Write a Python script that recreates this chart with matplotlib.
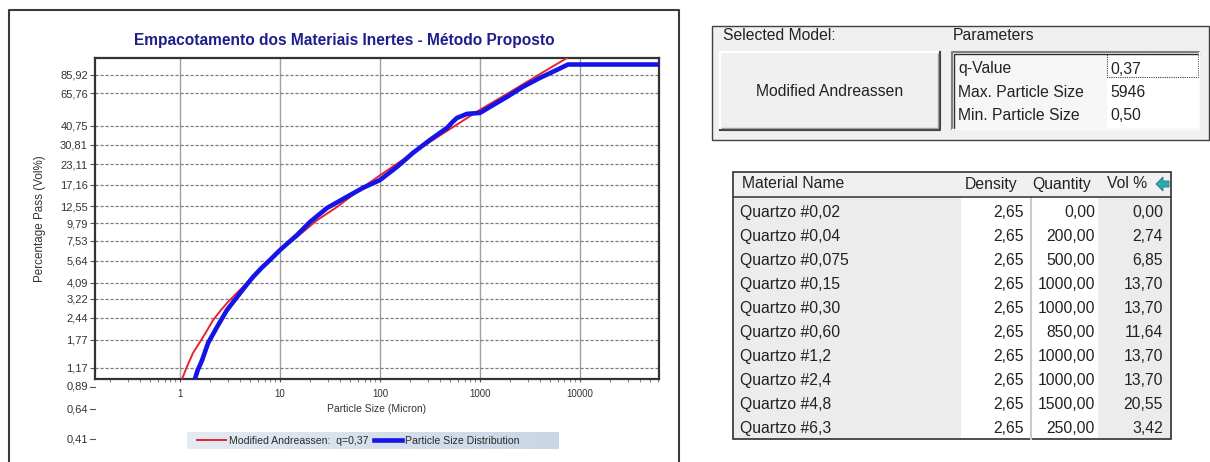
import matplotlib.pyplot as plt
import matplotlib.transforms as mtransforms
from matplotlib.patches import Rectangle, Polygon
from matplotlib.ticker import FixedLocator, NullFormatter, NullLocator
import numpy as np

plt.rcParams['font.family'] = ['Liberation Sans', 'DejaVu Sans']

# Curva do modelo de Andreassen modificado (tamanho em micron, % passante)
andreassen_size = [1.05, 1.17, 1.35, 1.70, 2.14, 2.55, 3.02, 3.60, 4.27, 5.20,
                   6.31, 7.70, 9.33, 14.8, 23.4, 37.2, 68, 100, 214, 468,
                   1000, 1862, 3981, 7413]
andreassen_pass = [1.0, 1.19, 1.46, 1.84, 2.36, 2.72, 3.08, 3.45, 3.84, 4.38,
                   4.92, 5.62, 6.41, 7.98, 10.2, 12.4, 16.6, 19.7, 27.4, 37.8,
                   51.5, 65.0, 87.0, 110]

# Distribuição granulométrica da mistura
psd_size = [1.41, 1.50, 1.66, 1.91, 2.34, 2.95, 3.72, 4.50, 5.37, 6.50, 7.94,
            10, 14.8, 19.95, 29.5, 46.8, 67.6, 100, 148, 214, 316, 468, 530,
            589, 741, 1000, 1259, 1862, 2692, 3981, 5888, 7586, 70000]
psd_pass = [1.0, 1.13, 1.31, 1.69, 2.13, 2.74, 3.31, 3.87, 4.44, 5.05, 5.70,
            6.59, 8.22, 9.95, 12.2, 14.4, 16.4, 18.4, 22.3, 27.4, 33.1, 39.5,
            43.0, 45.7, 48.5, 49.2, 53.7, 62.2, 72.1, 82.2, 92.5, 100, 100]

y_ticks = [85.92, 65.76, 40.75, 30.81, 23.11, 17.16, 12.55, 9.79, 7.53, 5.64,
           4.09, 3.22, 2.44, 1.77, 1.17, 0.89, 0.64, 0.41]
x_ticks = [1, 10, 100, 1000, 10000]

# Parâmetros do modelo
modelo = 'Modified Andreassen'
q_value = 0.37
max_size = 5946
min_size = 0.50

# Tabela de materiais
materiais = ['Quartzo #0,02', 'Quartzo #0,04', 'Quartzo #0,075', 'Quartzo #0,15',
             'Quartzo #0,30', 'Quartzo #0,60', 'Quartzo #1,2', 'Quartzo #2,4',
             'Quartzo #4,8', 'Quartzo #6,3']
densidade = [2.65, 2.65, 2.65, 2.65, 2.65, 2.65, 2.65, 2.65, 2.65, 2.65]
quantidade = [0.00, 200.00, 500.00, 1000.00, 1000.00, 850.00, 1000.00, 1000.00,
              1500.00, 250.00]
vol_pct = [0.00, 2.74, 6.85, 13.70, 13.70, 11.64, 13.70, 13.70, 20.55, 3.42]


def virgula(v, nd=2):
    return f'{v:.{nd}f}'.replace('.', ',')


W, H = 1210, 462
fig = plt.figure(figsize=(W / 100, H / 100), dpi=100)


def caixa(x0, y0, x1, y1):
    return [x0 / W, 1 - y1 / H, (x1 - x0) / W, (y1 - y0) / H]


# camada em pixels para a moldura, legenda e painéis da direita
ui = fig.add_axes([0, 0, 1, 1], zorder=0)
ui.set_xlim(0, W)
ui.set_ylim(H, 0)
ui.set_axis_off()

ax = fig.add_axes(caixa(95, 58, 659, 379), zorder=1)
ax.set_xscale('log')
ax.set_yscale('log')
ax.set_xlim(0.141, 61700)
ax.set_ylim(0.995, 110)

ymin = ax.get_ylim()[0]
dentro = [v for v in y_ticks if v >= ymin]
fora = [v for v in y_ticks if v < ymin]

ax.yaxis.set_major_locator(FixedLocator(dentro))
ax.yaxis.set_major_formatter(plt.FixedFormatter([virgula(v) for v in dentro]))
ax.yaxis.set_minor_locator(NullLocator())
ax.xaxis.set_major_locator(FixedLocator(x_ticks))
ax.xaxis.set_major_formatter(plt.FixedFormatter([str(v) for v in x_ticks]))
minor = [k * 10.0 ** e for e in range(-1, 5) for k in range(2, 10)]
ax.xaxis.set_minor_locator(FixedLocator(minor))
ax.xaxis.set_minor_formatter(NullFormatter())

ax.tick_params(axis='y', which='major', length=3.6, width=0.8, color='#555555',
               labelsize=8, pad=1.5, labelcolor='#333333')
ax.tick_params(axis='x', which='major', length=2.5, width=0.8, color='#555555',
               labelsize=7, pad=5, labelcolor='#333333')
ax.tick_params(axis='x', which='minor', length=2.5, width=0.8, color='#888888')

ax.set_axisbelow(True)
ax.grid(axis='y', which='major', ls=(0, (2.5, 1.5)), color='#7a7a7a', lw=0.9)
ax.grid(axis='x', which='major', ls='-', color='#a0a0a0', lw=1.0)
for s in ax.spines.values():
    s.set_color('#333333')
    s.set_linewidth(1.6)

# rótulos do eixo y abaixo da área do gráfico
trans = mtransforms.blended_transform_factory(ax.transAxes, ax.transData)
desloc = mtransforms.ScaledTranslation(-5.1 / 72, 0, fig.dpi_scale_trans)
for v in fora:
    ax.text(0, v, virgula(v), transform=trans + desloc, ha='right', va='center',
            fontsize=8, color='#333333', clip_on=False)
    ax.plot([-0.0089, 0], [v, v], transform=trans, color='#555555', lw=0.8,
            clip_on=False)

ax.plot(andreassen_size, andreassen_pass, color='#e8232b', lw=1.4, zorder=3,
        label='Modified Andreassen:  q=' + virgula(q_value))
ax.plot(psd_size, psd_pass, color='#1414e6', lw=3.3, zorder=4,
        solid_joinstyle='round', label='Particle Size Distribution')

ax.set_xlabel('Particle Size (Micron)', fontsize=7.5, labelpad=3, color='#333333')
ax.set_ylabel('Percentage Pass (Vol%)', fontsize=8.4, labelpad=10, color='#333333')

fig.text(344 / W, 1 - 40 / H, 'Empacotamento dos Materiais Inertes - Método Proposto',
         ha='center', va='center', fontsize=11.2, fontweight='bold', color='#1e1e8c')

# fundo da legenda em degradê
grad = np.linspace(0, 1, 256).reshape(1, -1)
ui.imshow(grad, extent=[187, 559, 449, 432], aspect='auto', zorder=1,
          cmap=plt.matplotlib.colors.LinearSegmentedColormap.from_list(
              'leg', ['#e4ebf3', '#c9d6e5']))
ui.set_xlim(0, W)
ui.set_ylim(H, 0)
ax.legend(loc='center', bbox_to_anchor=(358.5 / W, 1 - 440.5 / H),
          bbox_transform=fig.transFigure, ncol=2, frameon=False, fontsize=7.6,
          handlelength=2.7, handletextpad=0.3, columnspacing=0.5,
          labelcolor='#2a2a2a')

# moldura do gráfico
ui.plot([9, 9, 679, 679], [475, 10, 10, 475], color='#3a3a3a', lw=1.5,
        clip_on=False)

# painel de seleção do modelo
fs = 11.3
tc = '#222222'
ui.add_patch(Rectangle((712, 26), 497, 114, fc='#f0f0f0', ec='#404040', lw=1.0))
ui.text(723, 36, 'Selected Model:', fontsize=fs, color=tc, va='center')
ui.text(953, 36, 'Parameters', fontsize=fs, color=tc, va='center')

ui.add_patch(Rectangle((720, 52), 220, 78, fc='#f0f0f0', ec='none'))
ui.plot([720, 720, 940], [130, 52, 52], color='white', lw=1.5)
ui.plot([720, 940, 940], [130, 130, 52], color='#404040', lw=1.5)
ui.plot([722, 938, 938], [128, 128, 54], color='#a0a0a0', lw=1.0)
ui.text(830, 91, modelo, fontsize=fs, color=tc, ha='center', va='center')

ui.add_patch(Rectangle((952, 52), 247, 77, fc='#f6f6f6', ec='none'))
ui.add_patch(Rectangle((1107, 53), 92, 75, fc='white', ec='none'))
ui.plot([952, 952, 1199], [129, 52, 52], color='#808080', lw=1.5)
ui.plot([953.5, 953.5, 1199], [129, 53.5, 53.5], color='#303030', lw=1.0)
ui.plot([952, 1199, 1199], [129, 129, 52], color='#fcfcfc', lw=1.0)
ui.add_patch(Rectangle((1107, 54), 91, 23, fc='none', ec='#404040', lw=0.8,
                       ls=(0, (1, 1))))
param_nomes = ['q-Value', 'Max. Particle Size', 'Min. Particle Size']
param_vals = [virgula(q_value), str(max_size), virgula(min_size)]
for i, (n, v) in enumerate(zip(param_nomes, param_vals)):
    y = 69 + i * 23.5
    ui.text(958, y, n, fontsize=fs, color=tc, va='center')
    ui.text(1110, y, v, fontsize=fs, color=tc, va='center')

# tabela de materiais
x0, x1, y0, y1 = 733, 1171, 172, 439
ui.add_patch(Rectangle((x0, y0), x1 - x0, 25, fc='#f0f0f0', ec='none'))
ui.add_patch(Rectangle((x0, 197), 228, y1 - 197, fc='#ececec', ec='none'))
ui.add_patch(Rectangle((961, 197), 69, y1 - 197, fc='white', ec='none'))
ui.add_patch(Rectangle((1032, 197), 66, y1 - 197, fc='white', ec='none'))
ui.add_patch(Rectangle((1098, 197), x1 - 1098, y1 - 197, fc='#ececec', ec='none'))
ui.plot([1031, 1031], [197, y1], color='#c8c8c8', lw=1.5)
ui.plot([x0, x1], [197, 197], color='#404040', lw=1.2)
ui.add_patch(Rectangle((x0, y0), x1 - x0, y1 - y0, fc='none', ec='#303030', lw=1.2))

ui.text(742, 184, 'Material Name', fontsize=fs, color=tc, va='center')
ui.text(1017, 184, 'Density', fontsize=fs, color=tc, va='center', ha='right')
ui.text(1091, 184, 'Quantity', fontsize=fs, color=tc, va='center', ha='right')
ui.text(1147, 184, 'Vol %', fontsize=fs, color=tc, va='center', ha='right')
ui.add_patch(Polygon([(1156, 184), (1163, 177), (1163, 181), (1169, 181),
                      (1169, 187), (1163, 187), (1163, 191)],
                     closed=True, fc='#2fa7b3', ec='#1f7f8a', lw=0.6))

for i in range(len(materiais)):
    y = 212.5 + i * 24.0
    ui.text(740, y, materiais[i], fontsize=fs, color=tc, va='center')
    ui.text(1024, y, virgula(densidade[i]), fontsize=fs, color=tc, va='center', ha='right')
    ui.text(1095, y, virgula(quantidade[i]), fontsize=fs, color=tc, va='center', ha='right')
    ui.text(1163, y, virgula(vol_pct[i]), fontsize=fs, color=tc, va='center', ha='right')

fig.savefig('out.png', dpi=100, facecolor='white')
